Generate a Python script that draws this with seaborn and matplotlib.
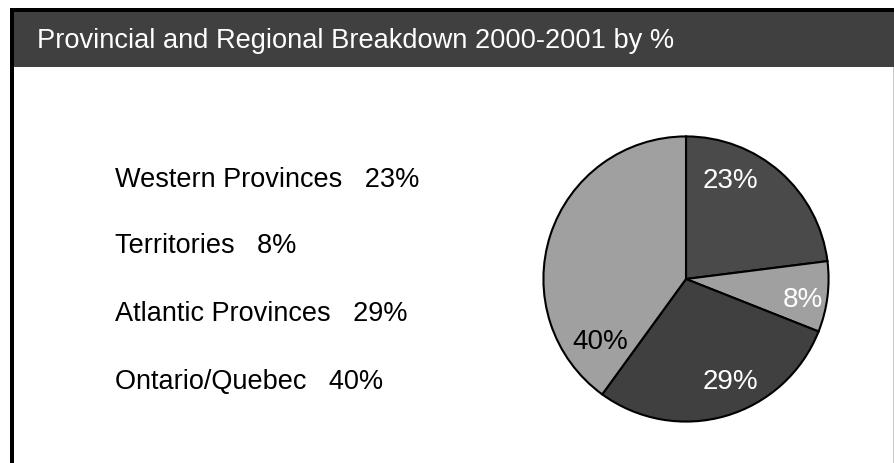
import matplotlib
matplotlib.use("Agg")
import matplotlib.pyplot as plt
import seaborn as sns
from matplotlib.patches import Rectangle

# data
regions = ["Western Provinces", "Territories", "Atlantic Provinces", "Ontario/Quebec"]
shares = [23, 8, 29, 40]
slice_colors = ["#4a4a4a", "#a0a0a0", "#404040", "#a0a0a0"]
pct_colors = ["white", "white", "white", "black"]
title = "Provincial and Regional Breakdown 2000-2001 by %"

# where the percent labels sit inside the pie (pie radius = 1)
pct_pos = [(0.31, 0.69), (0.82, -0.15), (0.31, -0.72), (-0.60, -0.44)]

sns.set_theme(style="white")
plt.rcParams["font.family"] = ["Liberation Sans", "DejaVu Sans"]

W, H = 894, 463
fig = plt.figure(figsize=(W / 100, H / 100), dpi=100)
fig.patch.set_facecolor("white")

def px(x, y, w, h, color):
    # rectangle in pixel coords, y measured from the top
    fig.patches.append(Rectangle((x / W, 1 - (y + h) / H), w / W, h / H,
                                 transform=fig.transFigure, color=color, lw=0))

# frame and title bar
px(10, 8, 884, 4, "black")
px(10, 8, 4, 455, "black")
px(14, 12, 880, 55, "#404040")
px(893, 67, 1, 396, "#c8c8c8")
fig.text(37 / W, 1 - 41 / H, title, color="white", fontsize=19.6, va="center", ha="left")

# left side list
rows_y = [180, 246, 314, 382]
for name, val, yy in zip(regions, shares, rows_y):
    fig.text(115 / W, 1 - yy / H, f"{name}   {val}%", color="black",
             fontsize=19.5, va="center", ha="left")

# pie
cx, cy, r = 686, 279, 144
ax = fig.add_axes([(cx - r) / W, (H - cy - r) / H, 2 * r / W, 2 * r / H])
wedges, texts, autotexts = ax.pie(
    shares, colors=slice_colors, startangle=90, counterclock=False,
    autopct="%d%%", radius=1,
    wedgeprops=dict(edgecolor="black", linewidth=1.5),
    textprops=dict(fontsize=20),
)
for t, c, pos in zip(autotexts, pct_colors, pct_pos):
    t.set_color(c)
    t.set_position(pos)
ax.set_xlim(-1.01, 1.01)
ax.set_ylim(-1.01, 1.01)
ax.set_aspect("equal")
ax.axis("off")

fig.savefig("out.png", dpi=100)
